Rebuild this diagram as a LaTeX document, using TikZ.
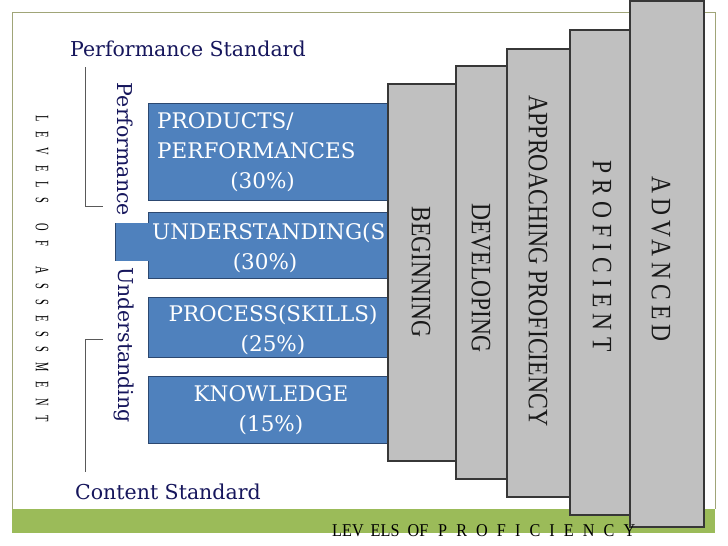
\documentclass[tikz,border=0pt]{standalone}
\usepackage{fontspec}
\setmainfont{DejaVu Serif}
\newfontfamily\levelfont{Liberation Serif}
\definecolor{navytext}{RGB}{22,22,92}
\definecolor{boxblue}{RGB}{79,129,189}
\definecolor{boxedge}{RGB}{44,72,112}
\definecolor{levelgray}{RGB}{192,192,192}
\definecolor{leveledge}{RGB}{55,55,55}
\definecolor{barcolor}{RGB}{155,187,89}
\definecolor{framecolor}{RGB}{160,165,120}
\newcommand{\narrow}[2]{\scalebox{#1}[1]{#2}}

\begin{document}
\begin{tikzpicture}[x=1pt,y=-1pt]
\tikzstyle{every node}+=[inner sep=0pt]
\tikzstyle{bluebox}=[draw=boxedge, fill=boxblue, line width=0.8pt, rectangle]
\tikzstyle{levelbox}=[draw=leveledge, fill=levelgray, line width=1.1pt, rectangle]
\tikzstyle{boxtext}=[text=white, font=\fontsize{21.5}{30}\selectfont]
\tikzstyle{navy}=[text=navytext, font=\fontsize{20.5}{24}\selectfont]
\tikzstyle{leveltext}=[text=black!90, rotate=-90, font=\levelfont\fontsize{28}{30}\selectfont]
\useasboundingbox (0,0) rectangle (728,546);
\fill[white] (0,0) rectangle (728,546);
% frame and bar
\draw[framecolor, line width=0.8pt] (12,509) -- (12,12) -- (715,12) -- (715,509);
\fill[barcolor] (12,509) rectangle (715,533);
% brackets
\draw[black!65, line width=0.8pt] (85,67) -- (85,206) -- (103,206);
\draw[black!65, line width=0.8pt] (103,339) -- (85,339) -- (85,472);
% standards
\node[navy, anchor=west] (perfstd) at (70,49) {Performance Standard};
\node[navy, anchor=west] (contstd) at (75,492) {Content Standard};
\node[navy, rotate=-90] (perf) at (125,149.5) {Performance};
\node[navy, rotate=-90] (under) at (124,345) {Understanding};
\node[rotate=-90, font=\levelfont\fontsize{19}{19}\selectfont] (assess) at (42,268.5) {\narrow{0.55}{\makebox[558pt][s]{L E V E L S\ \ O F\ \ A S S E S S M E N T}}};
% blue boxes
\node[bluebox, minimum width=240, minimum height=97] (prodbox) at (268,151.5) {};
\node[bluebox, minimum width=240, minimum height=66] (undbox) at (268,245) {};
\fill[boxblue] (115,223) rectangle (148.6,261);
\draw[boxedge, line width=0.8pt] (115,223) -- (115,261);
\node[bluebox, minimum width=240, minimum height=60] (procbox) at (268,327) {};
\node[bluebox, minimum width=240, minimum height=67] (knowbox) at (268,409.5) {};
\node[boxtext, anchor=west, align=left] (prodtext) at (157,152) {PRODUCTS/\\PERFORMANCES\\\hspace*{3.4em}(30\%)};
\node[boxtext, anchor=west, align=left] (undtext) at (152,248) {UNDERSTANDING(S\\\hspace*{3.75em}(30\%)};
\node[boxtext, align=center] (proctext) at (273,330) {PROCESS(SKILLS)\\(25\%)};
\node[boxtext, align=center] (knowtext) at (271,410) {KNOWLEDGE\\(15\%)};
% levels of proficiency
\node[levelbox, minimum width=68, minimum height=377] (beginbox) at (422,272.5) {};
\node[levelbox, minimum width=51, minimum height=413] (devbox) at (481.5,272.5) {};
\node[levelbox, minimum width=63, minimum height=448] (appbox) at (538.5,273) {};
\node[levelbox, minimum width=61, minimum height=485] (profbox) at (600.5,272.5) {};
\node[levelbox, minimum width=74, minimum height=526] (advbox) at (667,264) {};
\node[leveltext] (begintext) at (421,272) {\narrow{0.84}{BEGINNING}};
\node[leveltext] (devtext) at (481,278) {\narrow{0.84}{DEVELOPING}};
\node[leveltext] (apptext) at (538,261) {\narrow{0.85}{APPROACHING PROFICIENCY}};
\node[leveltext, font=\levelfont\addfontfeatures{LetterSpace=26}\fontsize{28}{30}\selectfont] (proftext) at (602,256) {\narrow{0.84}{PROFICIENT}};
\node[leveltext, font=\levelfont\addfontfeatures{LetterSpace=22}\fontsize{28}{30}\selectfont] (advtext) at (661,259) {\narrow{0.84}{ADVANCED}};
\node[anchor=base west, font=\levelfont\fontsize{18}{18}\selectfont] (proflevels) at (332,536) {\narrow{0.9}{LEV\hspace{7.8pt}ELS\hspace{9pt}OF\hspace{11pt}\makebox[219pt][s]{P R O F I C I E N C Y}}};
\end{tikzpicture}
\end{document}
